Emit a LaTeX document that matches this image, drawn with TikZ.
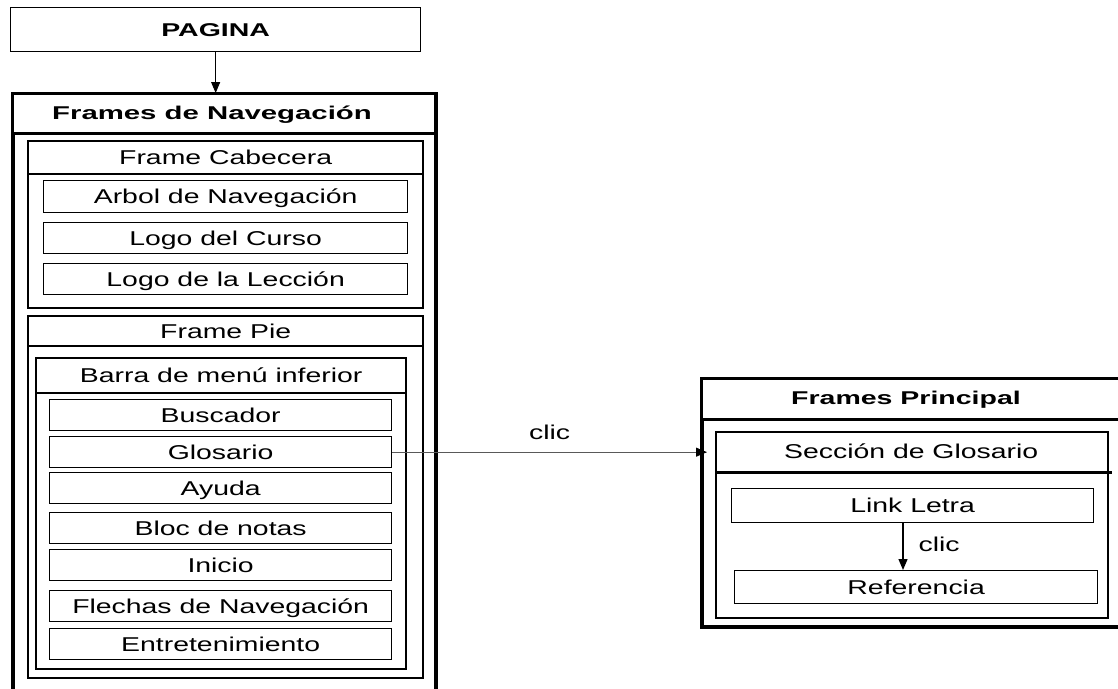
\documentclass[tikz,border=0pt]{standalone}
\usepackage{fontspec}
\setmainfont{Liberation Sans}
\usepackage{graphicx}
\usetikzlibrary{arrows.meta}

% horizontally widened lettering used throughout
\newcommand{\rt}[1]{\scalebox{1.42}[1]{#1}}
\newcommand{\bt}[1]{\scalebox{1.54}[1]{\bfseries #1}}

\begin{document}
\begin{tikzpicture}[x=1pt,y=-1pt,
  base/.style={draw=black, inner sep=0pt, anchor=north west, fill=white},
  txt/.style={font=\fontsize{20}{24}\selectfont, text height=14.3pt, text depth=0pt},
  btxt/.style={font=\fontsize{18.5}{22}\selectfont, text height=13.3pt, text depth=0pt},
  itembox/.style={base, txt, line width=1.3pt},
  framebox/.style={base, line width=2.4pt},
  outerbox/.style={base, line width=4pt},
  hdr/.style={base, txt, line width=2.4pt},
  ohdr/.style={base, btxt, line width=3.4pt},
  link/.style={line width=1pt, -{Triangle[length=11pt,width=9pt,black]}},
  lbl/.style={txt, inner sep=0pt}
]
\useasboundingbox (0,0) rectangle (1118,688);
\clip (0,0) rectangle (1118,688);

% top page box
\node[base, btxt, line width=1.3pt, minimum width=410pt, minimum height=44pt] (pagina) at (10,7) {\bt{PAGINA}};

% navigation frame
\node[outerbox, minimum width=423pt, minimum height=640pt] (nav) at (10.5,92) {};
\node[ohdr, minimum width=423pt, minimum height=40pt] (navh) at (10.5,92) {};
\node[btxt, inner sep=0pt] (navtitle) at (212,112.5) {\scalebox{1.03}[1]{\bt{Frames de Navegación}}};

% header frame
\node[framebox, minimum width=395pt, minimum height=167pt] (cab) at (27,140) {};
\node[hdr, minimum width=395pt, minimum height=33pt] (cabh) at (27,140) {\rt{Frame Cabecera}};
\node[itembox, minimum width=364pt, minimum height=32pt] (arbol) at (43,180) {\rt{Arbol de Navegación}};
\node[itembox, minimum width=364pt, minimum height=31pt] (curso) at (43,222) {\rt{Logo del Curso}};
\node[itembox, minimum width=364pt, minimum height=31pt] (leccion) at (43,263) {\rt{Logo de la Lección}};

% footer frame
\node[framebox, minimum width=395pt, minimum height=362pt] (pie) at (27,315) {};
\node[hdr, minimum width=395pt, minimum height=30pt] (pieh) at (27,315) {\rt{Frame Pie}};
\node[framebox, minimum width=370pt, minimum height=311pt] (barra) at (35,357) {};
\node[hdr, minimum width=370pt, minimum height=35pt] (barrah) at (35,357) {\rt{Barra de menú inferior}};
\node[itembox, minimum width=342pt, minimum height=31pt] (buscador) at (49,399) {\rt{Buscador}};
\node[itembox, minimum width=342pt, minimum height=31pt] (glosario) at (49,436) {\rt{Glosario}};
\node[itembox, minimum width=342pt, minimum height=31pt] (ayuda) at (49,472) {\rt{Ayuda}};
\node[itembox, minimum width=342pt, minimum height=31pt] (bloc) at (49,512) {\rt{Bloc de notas}};
\node[itembox, minimum width=342pt, minimum height=31pt] (inicio) at (49,549) {\rt{Inicio}};
\node[itembox, minimum width=342pt, minimum height=31pt] (flechas) at (49,590) {\rt{Flechas de Navegación}};
\node[itembox, minimum width=342pt, minimum height=31pt] (entre) at (49,628) {\rt{Entretenimiento}};

% main frame (runs past the right edge)
\node[outerbox, minimum width=440pt, minimum height=248pt] (prin) at (700,377) {};
\node[ohdr, minimum width=440pt, minimum height=41pt] (prinh) at (700,377) {};
\node[btxt, inner sep=0pt] (printitle) at (906,397.5) {\bt{Frames Principal}};
\node[framebox, minimum width=392pt, minimum height=186pt] (sec) at (715,431) {};
\node[base, txt, draw=none, fill=none, minimum width=392pt, minimum height=41pt] (sech) at (715,431) {\rt{Sección de Glosario}};
\draw[line width=2.4pt] (sech.south west) -- ++(397,0) coordinate (secend);
\node[itembox, minimum width=362pt, minimum height=34pt] (letra) at (731,488) {\rt{Link Letra}};
\node[itembox, minimum width=363pt, minimum height=33pt] (ref) at (734,570) {\rt{Referencia}};

% connectors
\coordinate (navtop) at (pagina.south |- nav.north);
\draw[link] (pagina.south) -- ([yshift=-1pt]navtop);
\coordinate (clicend) at (707,0 |- glosario.east);
\draw[link, draw=black!65, line width=0.9pt] (glosario.east) -- (clicend)
  node[lbl, pos=0.5, above=12pt] (clic1) {\rt{clic}};
\coordinate (refin) at (903,0 |- ref.north);
\draw[link, line width=1.3pt] (903,0 |- letra.south) -- (refin)
  node[lbl, pos=0.46, right=15pt] (clic2) {\rt{clic}};
\end{tikzpicture}
\end{document}
